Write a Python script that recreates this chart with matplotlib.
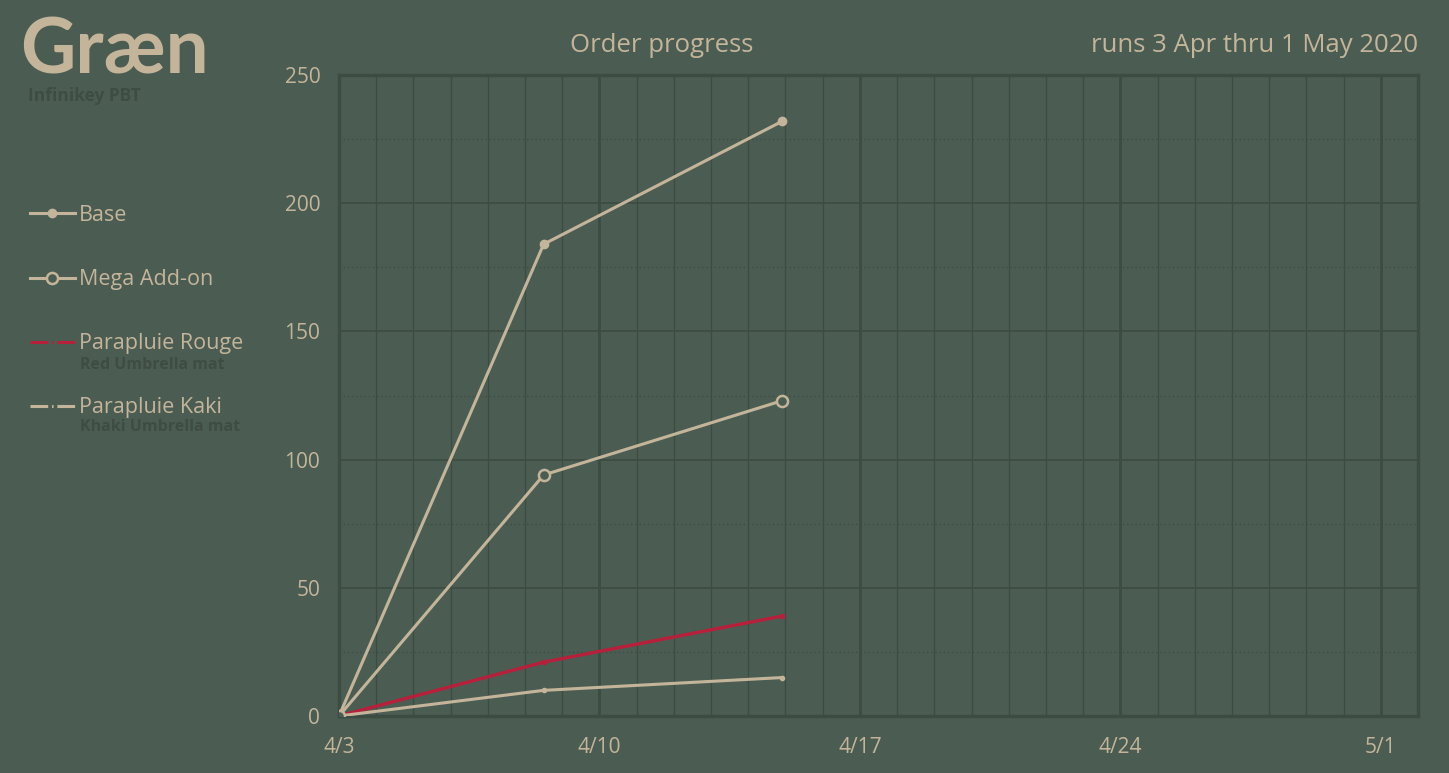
import matplotlib
matplotlib.use("Agg")
import matplotlib.pyplot as plt
import matplotlib.dates as mdates
from matplotlib.lines import Line2D
from matplotlib.ticker import MultipleLocator
import pandas as pd

# =========================
# DATA
# =========================
dates = pd.to_datetime(["2020-04-03 00:00", "2020-04-08 12:00", "2020-04-14 22:00"])
base = [0, 184, 232]
mega = [0, 94, 123]
rouge = [0, 21, 39]
kaki = [0, 10, 15]

series_names = ["Base", "Mega Add-on", "Parapluie Rouge", "Parapluie Kaki"]
sub_names = ["", "", "Red Umbrella mat", "Khaki Umbrella mat"]
x_ticks = pd.to_datetime(["2020-04-03", "2020-04-10", "2020-04-17", "2020-04-24", "2020-05-01"])
x_start, x_end = pd.Timestamp("2020-04-03"), pd.Timestamp("2020-05-02")

# =========================
# STYLE
# =========================
BG = "#4b5d52"
TAN = "#c4b59a"
RED = "#b81f3b"
GRID = "#3d4c43"
DARK = "#3e4c43"
FONT = ["Open Sans", "DejaVu Sans"]
plt.rcParams["font.family"] = FONT

W, H = 1449, 773
fig = plt.figure(figsize=(W / 100, H / 100), dpi=100, facecolor=BG)
ax = fig.add_axes([339 / W, 1 - 716 / H, (1418 - 339) / W, (716 - 75) / H])
ax.set_facecolor(BG)

# lines
ax.plot(dates, base, color=TAN, lw=2.2, marker="o", ms=6, mfc=TAN, mec=TAN, zorder=5)
ax.plot(dates, mega, color=TAN, lw=2.2, marker="o", ms=8, mfc=BG, mec=TAN, mew=1.8, zorder=6)
ax.plot(dates, rouge, color=RED, lw=2.4, marker="o", ms=3, mfc=RED, mec=RED, zorder=4)
ax.plot(dates, kaki, color=TAN, lw=2.2, marker="o", ms=3, mfc=TAN, mec=TAN, zorder=4)

# axes
ax.set_xlim(x_start, x_end)
ax.set_ylim(0, 250)
ax.set_xticks(x_ticks)
ax.xaxis.set_major_formatter(mdates.DateFormatter("%-m/%-d"))
ax.xaxis.set_minor_locator(mdates.DayLocator())
ax.yaxis.set_major_locator(MultipleLocator(50))
ax.yaxis.set_minor_locator(MultipleLocator(25))

ax.grid(which="major", axis="x", color=GRID, lw=2.0)
ax.grid(which="minor", axis="x", color=GRID, lw=1.0)
ax.grid(which="major", axis="y", color=GRID, lw=1.2)
ax.grid(which="minor", axis="y", color=GRID, lw=1.0, ls=(0, (1, 2)))
ax.set_axisbelow(True)

ax.tick_params(which="both", length=0, colors=TAN, labelsize=15)
ax.tick_params(axis="y", pad=13.5)
ax.tick_params(axis="x", pad=15)
for s in ax.spines.values():
    s.set_color(GRID)
    s.set_linewidth(2.5)

# header texts
fig.text(20 / W, 1 - 73 / H, "Græn", color=TAN, fontsize=55, fontweight="bold",
         family=["Lato", "DejaVu Sans"], va="baseline", ha="left")
fig.text(28 / W, 1 - 87 / H, "Infinikey PBT", color=DARK, fontsize=12.5, fontweight="bold",
         va="top", ha="left")
fig.text(662 / W, 1 - 46 / H, "Order progress", color=TAN, fontsize=18.5, va="center", ha="center")
fig.text(1418 / W, 1 - 46 / H, "runs 3 Apr thru 1 May 2020", color=TAN, fontsize=18.5,
         va="center", ha="right")

# legend
dashdot = (0, (5.8, 1.25, 0.5, 1.25))
handles = [
    Line2D([], [], color=TAN, lw=2.2, marker="o", ms=6, mfc=TAN, mec=TAN),
    Line2D([], [], color=TAN, lw=2.2, marker="o", ms=8, mfc=BG, mec=TAN, mew=1.8),
    Line2D([], [], color=RED, lw=2.2, ls=dashdot),
    Line2D([], [], color=TAN, lw=2.2, ls=dashdot),
]
leg = fig.legend(handles, series_names, loc="upper left", bbox_to_anchor=(30 / W, 1 - 205 / H),
                 frameon=False, fontsize=15.5, handlelength=2.08, handletextpad=0.18,
                 labelspacing=2.0, borderpad=0, borderaxespad=0)
for t in leg.get_texts():
    t.set_color(TAN)

sub_y = [0, 0, 365, 427]
for name, y in zip(sub_names, sub_y):
    if name:
        fig.text(80 / W, 1 - y / H, name, color=DARK, fontsize=11.5, fontweight="bold",
                 va="center", ha="left")

fig.savefig("out.png", dpi=100, facecolor=BG)
